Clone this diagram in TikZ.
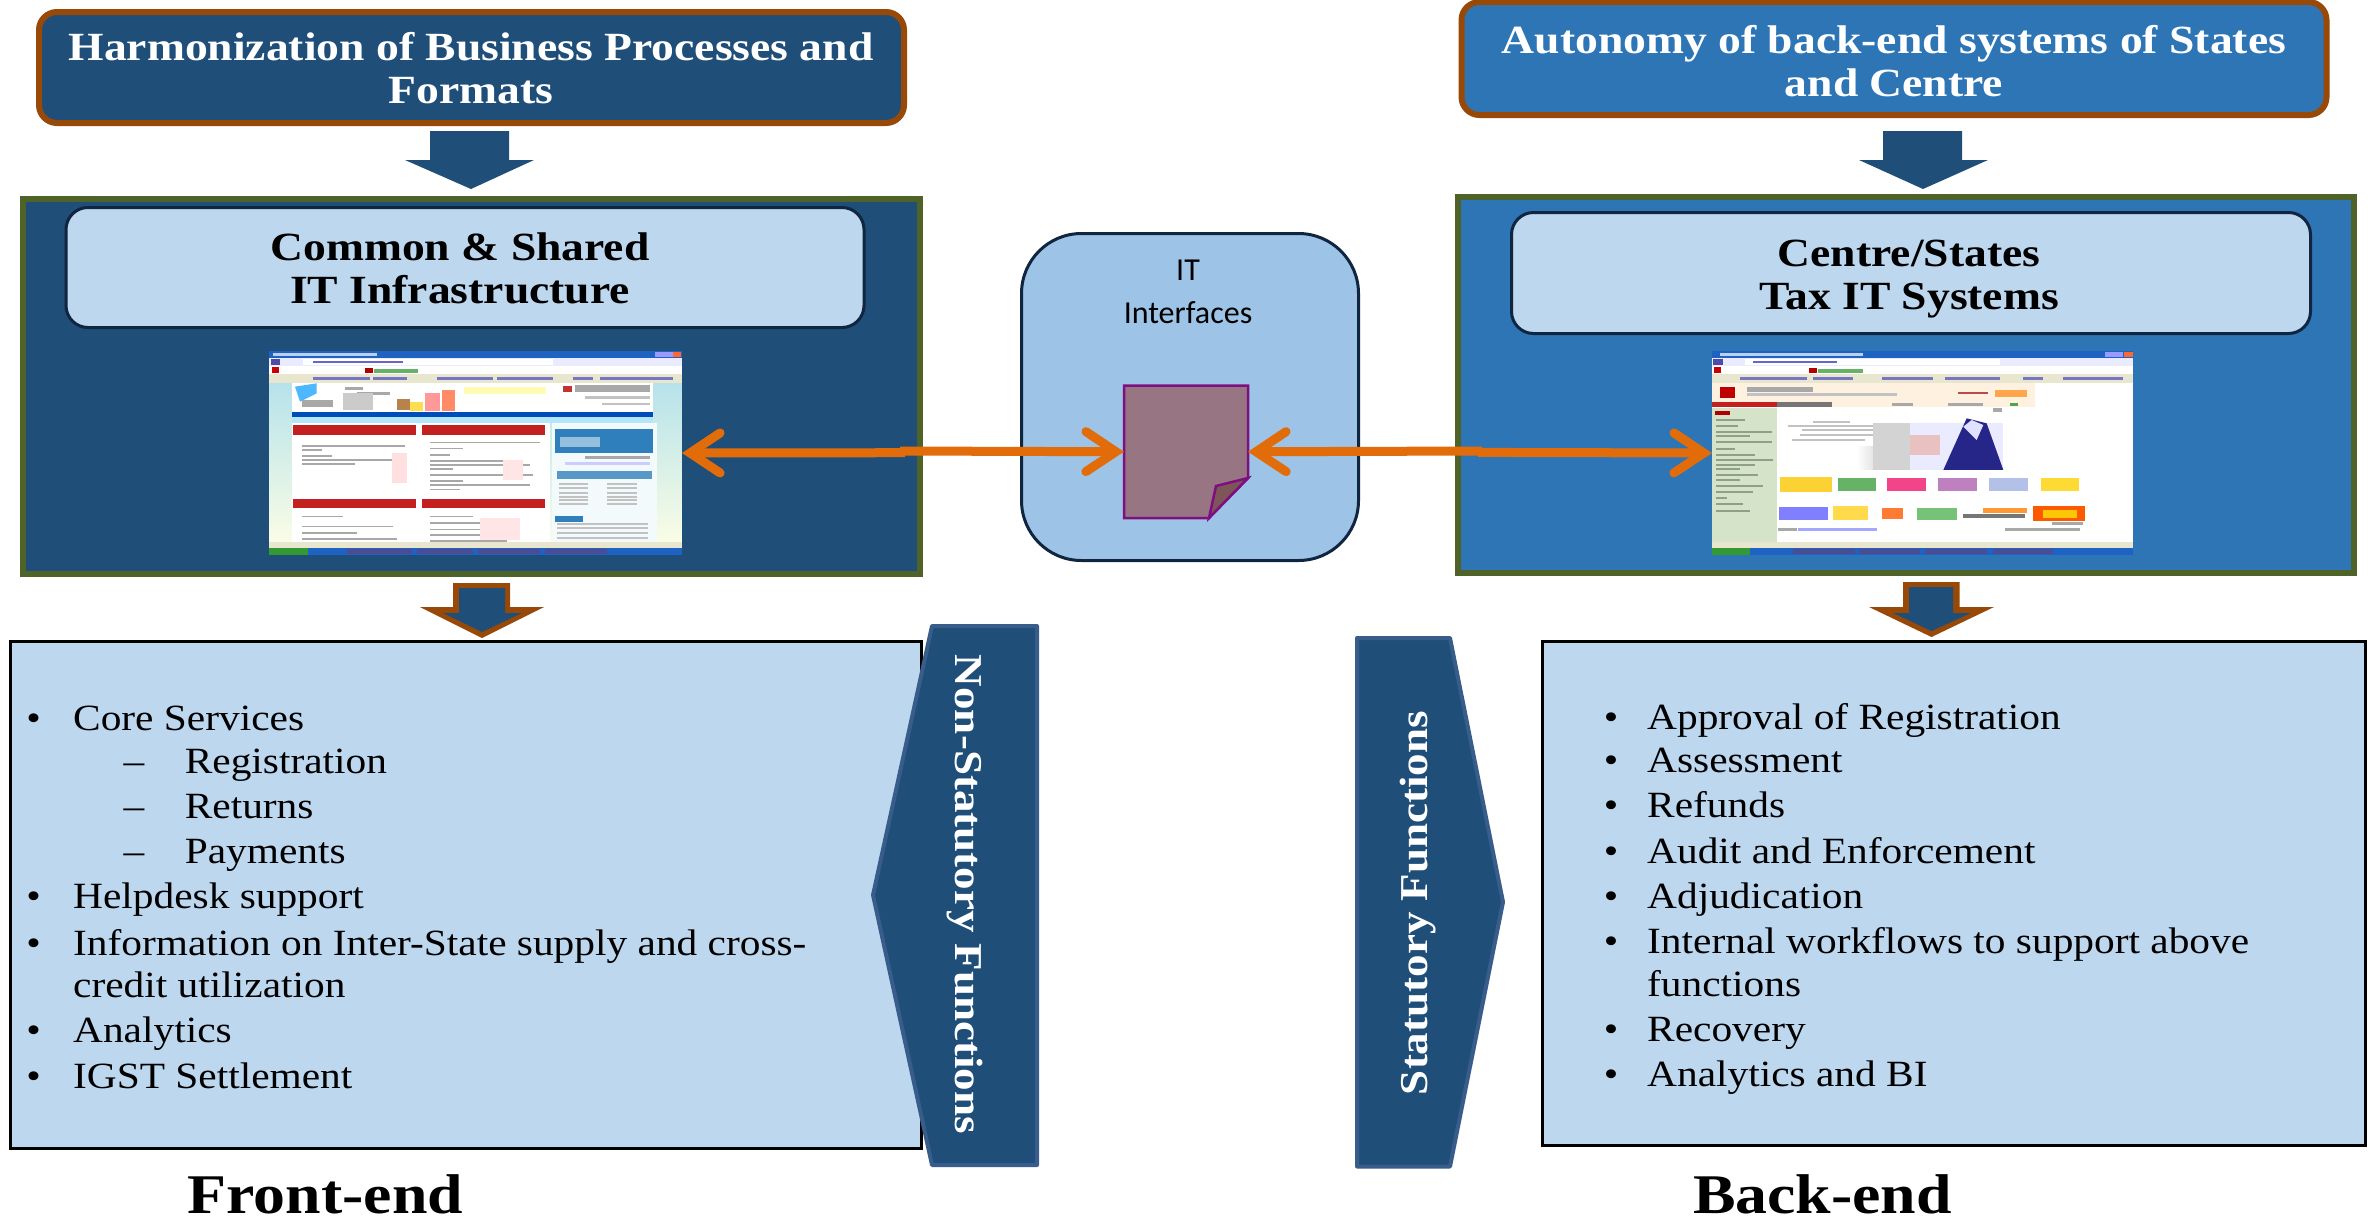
\documentclass[tikz,border=0pt]{standalone}
\usepackage{fontspec}
\setmainfont{Liberation Serif}[FakeStretch=1.118,BoldFeatures={FakeStretch=1.14}]
\newfontfamily\itf{Carlito}
\usetikzlibrary{arrows.meta}
\definecolor{navy}{HTML}{1F4E79}
\definecolor{midblue}{HTML}{2E75B6}
\definecolor{pale}{HTML}{BDD7EE}
\definecolor{itblue}{HTML}{9DC3E6}
\definecolor{brownb}{HTML}{984807}
\definecolor{oliveb}{HTML}{4F6228}
\definecolor{darkb}{HTML}{10253F}
\definecolor{polyb}{HTML}{385D8A}
\definecolor{orangea}{HTML}{E36C0A}
\definecolor{docfill}{HTML}{977582}
\definecolor{docfold}{HTML}{7E5558}
\definecolor{docline}{HTML}{7F0F80}
\definecolor{winblue}{HTML}{1E62C4}
\definecolor{barg}{HTML}{A8A8A8}
\definecolor{chrome}{HTML}{E9E6CF}
\definecolor{redbar}{HTML}{C42020}
\definecolor{panelb}{HTML}{2E7FBC}
\definecolor{skyb}{HTML}{A9DDEB}
\definecolor{navpale}{HTML}{D5E3C8}
\definecolor{navtext}{HTML}{8FA088}
\tikzset{
  bx/.style={draw,anchor=north west,outer sep=0pt,inner sep=0pt},
  headbox/.style={bx,draw=brownb,line width=6pt,rounded corners=18pt},
  panel/.style={bx,draw=oliveb,line width=6pt},
  innerbox/.style={bx,draw=darkb,fill=pale,line width=3pt,rounded corners=22pt},
  listbox/.style={bx,draw=black,fill=pale,line width=3pt},
  shot/.style={anchor=north west,outer sep=0pt,inner sep=0pt},
  htext/.style={align=center,text=white,font=\fontsize{40}{43.5}\selectfont\bfseries},
  itext/.style={align=center,font=\fontsize{40}{43}\selectfont\bfseries},
  rtext/.style={text=white,font=\fontsize{39.5}{42}\selectfont\bfseries},
  listtext/.style={anchor=base west,inner sep=0pt,font=\fontsize{37}{44}\selectfont},
  bullet/.style={anchor=base,inner sep=0pt,font=\fontsize{37}{44}\selectfont},
  foot/.style={anchor=base,inner sep=0pt,text depth=0pt,font=\fontsize{56}{60}\selectfont\bfseries},
  poly/.style={fill=navy,draw=polyb,line width=4pt,line join=round},
  link/.style={draw=orangea,line width=9pt,line cap=butt,
    arrows={-{Straight Barb[length=30pt,width=40pt,line cap=round,line join=miter]}}}
}
\begin{document}
\begin{tikzpicture}[x=1pt,y=-1pt]
\useasboundingbox (0,0) rectangle (2374,1219);
\fill[white] (0,0) rectangle (2374,1219);

% header boxes
\node[headbox,fill=navy,minimum width=865pt,minimum height=111pt] (hdrL) at (39,12) {};
\node[htext] (hdrLt) at (471,68) {Harmonization of Business Processes and\\Formats};
\node[headbox,fill=midblue,minimum width=865pt,minimum height=113pt] (hdrR) at (1461.5,2) {};
\node[htext] (hdrRt) at (1894,61) {Autonomy of back-end systems of States\\and Centre};

% top block arrows
\fill[navy] (430,131) -- (509,131) -- (509,160) -- (534,160) -- (471,189) -- (405,160) -- (430,160) -- cycle;
\fill[navy] (1883,131) -- (1962,131) -- (1962,160) -- (1988,160) -- (1923,189) -- (1859,160) -- (1883,160) -- cycle;

% panels
\node[panel,fill=navy,minimum width=897pt,minimum height=375pt] (boxL) at (23,199) {};
\node[panel,fill=midblue,minimum width=896pt,minimum height=376pt] (boxR) at (1458,197) {};
\node[innerbox,minimum width=798pt,minimum height=120pt] (inL) at (66,207.5) {};
\node[itext] (inLt) at (460,268) {Common \& Shared\\IT Infrastructure};
\node[innerbox,minimum width=799pt,minimum height=121pt] (inR) at (1511.5,212.5) {};
\node[itext] (inRt) at (1909,279) {Centre/States\\Tax IT Systems};

% left screenshot
\node[shot,minimum width=413pt,minimum height=204pt] (shotL) at (269,351) {};
\begin{scope}[shift={(260,340)},x=.3333pt,y=-.3333pt]
  \shade[top color=skyb,bottom color=yellow!10!white] (27,33) rectangle (1265,645);
  \fill[winblue] (27,33) rectangle (1265,55);
  \fill[white!70!winblue] (40,38) rectangle (350,48);
  \fill[red!50!orange!80!white] (1240,36) rectangle (1262,52);
  \fill[blue!40!white] (1185,36) rectangle (1238,52);
  \fill[blue!8!white] (27,55) rectangle (1265,78);
  \fill[white] (130,58) rectangle (880,75);
  \fill[barg!60!blue] (160,62) rectangle (430,70);
  \fill[blue!50!black!70!white] (32,58) rectangle (60,76);
  \fill[white] (27,78) rectangle (1265,102);
  \fill[red!80!black] (35,82) rectangle (58,98);
  \fill[red!70!black] (315,85) rectangle (340,100);
  \fill[green!50!black!60!white] (342,87) rectangle (475,100);
  \fill[chrome] (27,102) rectangle (1265,128);
  \foreach \a/\b in {160/330,340/440,530/700,710/880,940/1000,1020/1240}
    \fill[barg!70!blue] (\a,110) rectangle (\b,120);
  \fill[white] (95,128) rectangle (1180,215);
  \fill[blue!40!cyan!70!white] (105,140) -- (170,130) -- (170,160) -- (120,185) -- cycle;
  \fill[barg] (125,180) rectangle (220,200);
  \fill[barg] (255,140) rectangle (310,150);
  \fill[barg] (290,155) rectangle (390,165);
  \fill[barg!60!white] (250,160) rectangle (340,210);
  \fill[orange!60!black!70!white] (410,178) rectangle (450,210);
  \fill[yellow!70!orange!70!white] (450,185) rectangle (490,212);
  \fill[red!40!white] (495,160) rectangle (540,212);
  \fill[orange!50!red!60!white] (545,150) rectangle (585,212);
  \fill[yellow!30!white] (612,140) rectangle (858,162);
  \fill[red!70!black!80!white] (910,138) rectangle (935,155);
  \fill[barg] (945,135) rectangle (1170,155);
  \fill[barg!70!white] (975,168) rectangle (1170,178);
  \fill[barg!70!white] (1025,188) rectangle (1170,196);
  \fill[blue!60!black!70!cyan] (95,215) rectangle (1180,232);
  \fill[white!70!cyan] (95,232) rectangle (1180,250);
  \fill[white] (95,250) rectangle (870,605);
  \foreach \a/\b/\c/\d in {100/255/468/285,485/255/855/285,100/477/468/505,485/477/855/505}
    \fill[redbar] (\a,\b) rectangle (\c,\d);
  \foreach \a/\b/\y in {125/435/315,125/185/327,125/215/345,125/435/358,125/285/370,
    510/840/305,510/610/323,510/570/342,510/740/360,510/810/372,510/580/384,510/820/402,510/610/421,510/810/433,510/600/446,
    125/250/527,125/400/557,125/290/576,125/410/594,
    510/640/527,510/680/547,510/700/566,510/760/583,510/740/600}
    \fill[barg] (\a,\y) rectangle (\b,\y+5);
  \fill[red!12!white] (395,340) rectangle (440,430);
  \fill[red!10!white] (730,360) rectangle (790,420);
  \fill[red!10!white] (660,535) rectangle (780,600);
  \fill[white!85!skyb] (875,250) rectangle (1190,605);
  \fill[panelb] (885,267) rectangle (1180,340);
  \fill[white!50!panelb] (900,290) rectangle (1020,320);
  \fill[barg] (975,348) rectangle (1170,358);
  \fill[blue!20!white] (915,367) rectangle (1170,376);
  \fill[panelb!80!white] (890,392) rectangle (1175,417);
  \foreach \y in {430,442,455,467,478,490}{
    \fill[barg!70!white] (898,\y) rectangle (985,\y+6);
    \fill[barg!70!white] (1040,\y) rectangle (1130,\y+6);}
  \fill[panelb] (885,527) rectangle (970,545);
  \foreach \y in {550,562,575,590}
    \fill[barg!70!white] (890,\y) rectangle (1165,\y+6);
  \fill[chrome] (27,605) rectangle (1265,625);
  \fill[winblue] (27,625) rectangle (1265,645);
  \fill[green!50!black!80!white] (27,625) rectangle (145,645);
  \foreach \a/\b in {260/455,470/640,655/840,855/1040}
    \fill[blue!40!black!70!white] (\a,627) rectangle (\b,643);
\end{scope}

% right screenshot
\node[shot,minimum width=421pt,minimum height=204pt] (shotR) at (1712,351) {};
\begin{scope}[shift={(1700,340)},x=.3333pt,y=-.3333pt]
  \fill[white] (36,33) rectangle (1300,645);
  \fill[winblue] (36,33) rectangle (1300,55);
  \fill[white!70!winblue] (60,38) rectangle (490,48);
  \fill[red!50!orange!80!white] (1272,36) rectangle (1298,52);
  \fill[blue!40!white] (1215,36) rectangle (1270,52);
  \fill[blue!8!white] (36,55) rectangle (1300,78);
  \fill[white] (135,58) rectangle (900,75);
  \fill[barg!60!blue] (160,62) rectangle (410,70);
  \fill[blue!50!black!70!white] (40,58) rectangle (68,76);
  \fill[white] (36,78) rectangle (1300,102);
  \fill[red!80!black] (42,82) rectangle (62,98);
  \fill[red!70!black] (328,85) rectangle (352,100);
  \fill[green!50!black!60!white] (355,87) rectangle (488,100);
  \fill[chrome] (36,102) rectangle (1300,128);
  \foreach \a/\b in {120/320,340/460,545/700,735/900,970/1030,1090/1270}
    \fill[barg!70!blue] (\a,110) rectangle (\b,120);
  \fill[yellow!6!white!95!red] (36,130) rectangle (1005,200);
  \fill[red!75!black] (60,140) rectangle (105,175);
  \fill[barg] (140,142) rectangle (340,155);
  \fill[barg!70!white] (140,160) rectangle (590,168);
  \fill[red!60!black!70!white] (775,155) rectangle (865,162);
  \fill[orange!70!white] (885,150) rectangle (980,170);
  \fill[redbar] (36,185) rectangle (230,202);
  \fill[barg!50!black!80!white] (230,185) rectangle (395,202);
  \fill[barg] (575,190) rectangle (640,198);
  \fill[barg] (745,190) rectangle (850,198);
  \fill[green!50!black!70!white] (930,190) rectangle (955,198);
  \fill[navpale] (36,205) rectangle (230,605);
  \fill[red!70!black] (45,214) rectangle (90,224);
  \foreach \a/\b/\y in {48/135/236,48/115/255,48/215/272,48/150/286,48/215/304,48/105/323,48/165/343,48/220/356,48/165/372,48/120/385,48/175/403,48/120/416,48/190/434,48/160/453,48/80/472,48/130/490,48/150/510}
    \fill[navtext] (\a,\y) rectangle (\b,\y+6);
  \foreach \a/\b/\y in {340/450/243,265/580/255,305/570/268,300/570/283,275/495/296}
    \fill[barg!70!white] (\a,\y) rectangle (\b,\y+6);
  \shade[left color=white,right color=barg] (470,320) rectangle (630,390);
  \fill[barg!50!white] (520,250) rectangle (630,390);
  \fill[blue!8!white] (630,250) rectangle (910,390);
  \fill[barg!60!red!40!white] (630,285) rectangle (720,345);
  \fill[blue!45!black!85!white] (730,390) -- (800,235) -- (860,250) -- (910,390) -- cycle;
  \fill[blue!12!white] (790,260) -- (815,240) -- (850,255) -- (830,300) -- cycle;
  \fill[barg] (880,205) rectangle (905,215);
  \fill[yellow!60!orange!80!white] (240,410) rectangle (397,455);
  \fill[green!50!black!60!white] (415,415) rectangle (528,452);
  \fill[magenta!70!red!75!white] (562,415) rectangle (678,452);
  \fill[violet!50!white] (715,415) rectangle (830,452);
  \fill[cyan!40!blue!30!white] (868,415) rectangle (985,452);
  \fill[yellow!70!orange!80!white] (1022,415) rectangle (1137,452);
  \fill[blue!50!white] (237,500) rectangle (385,540);
  \fill[orange!40!yellow!70!white] (400,497) rectangle (503,540);
  \fill[orange!70!red!80!white] (545,505) rectangle (610,538);
  \fill[green!30!barg] (650,505) rectangle (770,540);
  \fill[orange!80!white] (850,505) rectangle (980,518);
  \fill[barg!70!black] (790,522) rectangle (975,533);
  \fill[orange!70!red] (998,498) rectangle (1155,542);
  \fill[yellow!60!orange] (1030,510) rectangle (1130,535);
  \fill[barg] (1055,547) rectangle (1150,555);
  \fill[barg] (235,565) rectangle (290,573);
  \fill[blue!35!white] (295,565) rectangle (530,573);
  \fill[barg] (915,565) rectangle (1140,573);
  \fill[chrome] (36,605) rectangle (1300,625);
  \fill[winblue] (36,625) rectangle (1300,645);
  \fill[green!50!black!80!white] (36,625) rectangle (150,645);
  \foreach \a/\b in {280/465,478/660,675/860,880/1060}
    \fill[blue!40!black!70!white] (\a,627) rectangle (\b,643);
\end{scope}

% IT interfaces
\node[bx,draw=darkb,fill=itblue,line width=3pt,rounded corners=60pt,minimum width=337pt,minimum height=327pt] (itbox) at (1021.5,233.5) {};
\node[align=center,font=\itf\fontsize{32}{43}\selectfont] (itt) at (1188,292) {IT\\Interfaces};
\node[anchor=north west,inner sep=0pt,outer sep=0pt,minimum width=124pt,minimum height=132.5pt] (doc) at (1124,385.5) {};
\draw[docline,fill=docfill,line width=2.5pt,line join=miter] (doc.north west) -- (doc.north east) -- (1248,478) -- (1209,518) -- (doc.south west) -- cycle;
\draw[docline,fill=docfold,line width=2.5pt,line join=miter] (1248,478) -- (1216,486) -- (1209,518) -- cycle;

% connectors
\coordinate (jL1) at (905,452.7);
\coordinate (jL2) at (900,451);
\coordinate (jR1) at (1482,451);
\coordinate (jR2) at (1478,452.4);
\draw[link] (jL1) -- (shotL.east);
\draw[link] (jL2) -- (doc.west);
\draw[link] (jR1) -- (doc.east);
\draw[link] (jR2) -- (shotR.west);

% lower block arrows
\fill[brownb] (453,583) -- (510,583) -- (510,607) -- (544,607) -- (482,638) -- (420,607) -- (453,607) -- cycle;
\fill[navy] (459,588) -- (505,588) -- (505,613) -- (522,613) -- (482,632) -- (443,613) -- (459,613) -- cycle;
\fill[brownb] (1903,582) -- (1959.5,582) -- (1959.5,607) -- (1994,607) -- (1931.5,637) -- (1869,607) -- (1903,607) -- cycle;
\fill[navy] (1909,587) -- (1953,587) -- (1953,613) -- (1971,613) -- (1931.5,631) -- (1893,613) -- (1909,613) -- cycle;

% list boxes
\node[listbox,minimum width=911pt,minimum height=506.5pt] (listL) at (10.5,641.5) {};
\node[listbox,minimum width=823pt,minimum height=503.5pt] (listR) at (1542.5,641.5) {};

\foreach \y/\t [count=\i] in {730.6/Core Services,908.6/Helpdesk support,955/Information on Inter-State supply and cross-,1042.7/Analytics,1088/IGST Settlement}{
  \node[bullet] (lb\i) at (33.6,\y) {•};
  \node[listtext] (lt\i) at (73,\y) {\t};
}
\node[listtext] (lc) at (73,997) {credit utilization};
\foreach \y/\t [count=\i] in {773/Registration,818/Returns,863/Payments}{
  \node[bullet] (ld\i) at (134,\y) {–};
  \node[listtext] (ls\i) at (184.6,\y) {\t};
}
\foreach \y/\t [count=\i] in {729/Approval of Registration,772/Assessment,817/Refunds,863/Audit and Enforcement,908.6/Adjudication,953/Internal workflows to support above,1041/Recovery,1086.5/Analytics and BI}{
  \node[bullet] (rb\i) at (1611,\y) {•};
  \node[listtext] (rt\i) at (1647,\y) {\t};
}
\node[listtext] (rc) at (1647,996) {functions};

% side polygons
\draw[poly] (1037,626) -- (932,626) -- (873,895) -- (932,1165) -- (1037,1165) -- cycle;
\node[rtext,rotate=-90] (nst) at (965,894.5) {Non-Statutory Functions};
\draw[poly] (1357,638) -- (1450,638) -- (1503,902) -- (1450,1166.5) -- (1357,1166.5) -- cycle;
\node[rtext,rotate=90] (sts) at (1418,903) {Statutory Functions};

% footers
\node[foot] (fe) at (325.5,1213) {Front-end};
\node[foot] (be) at (1822.5,1213) {Back-end};
\end{tikzpicture}
\end{document}
